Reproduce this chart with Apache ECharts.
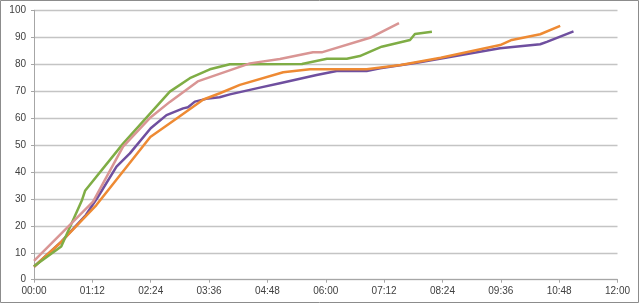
<!DOCTYPE html>
<html>
<head>
<meta charset="utf-8">
<script src="https://cdn.jsdelivr.net/npm/echarts@6/dist/echarts.min.js"></script>
<style>
html,body{margin:0;padding:0;background:#fff;}
#c{width:640px;height:304px;}
</style>
</head>
<body>
<div id="c"></div>
<script>
// time in minutes since 00:00, values in %
var purpleT = [0, 33.8, 64, 79, 101.8, 118.3, 144, 163.5, 184, 190, 198.5, 215, 229, 241.7, 278.7, 303.4, 348.8, 373.5, 410.5, 427, 472.3, 575, 624.6, 632.8, 665.7];
var purpleV = [4.8, 14.1, 24, 30.8, 42, 46.9, 56.2, 61.1, 63.6, 64, 66.1, 67.3, 67.7, 68.8, 71.3, 72.9, 76, 77.5, 77.5, 78.5, 80.5, 85.9, 87.4, 88.3, 92.2];

var orangeT = [0, 33.8, 77, 143.5, 176, 209, 229.3, 254, 307.5, 340.5, 410.5, 452.5, 501.9, 575.2, 589.6, 624.6, 649.3];
var orangeV = [4.8, 14.1, 27.7, 53, 59.8, 66.9, 69.2, 72.3, 77, 78.1, 78.1, 79.7, 82.4, 87.1, 89, 91.1, 94.2];

var greenT = [0, 33.6, 59.3, 63, 109.9, 167.6, 192.3, 217, 241.7, 330.6, 361.5, 386, 402, 429, 464, 470, 491];
var greenV = [5, 12.3, 29.6, 33, 50.5, 69.8, 74.8, 78.1, 80, 80.1, 82, 82, 83, 86.5, 89, 91.2, 92];

var pinkT = [0, 72.9, 109.9, 142.9, 167.6, 202, 266.4, 303.4, 344.2, 355, 414.6, 450.4];
var pinkV = [7, 29, 49.4, 60, 66, 73.6, 80.3, 81.9, 84.4, 84.4, 89.8, 95.2];

var xTickMinutes = [0, 72, 144, 216, 288, 360, 432, 504, 576, 648, 720];
var yTicks = [0, 10, 20, 30, 40, 50, 60, 70, 80, 90, 100];

function pairs(t, v) { return t.map(function (x, i) { return [x, v[i]]; }); }
function fmt(m) {
  var h = Math.floor(m / 60), mm = Math.round(m % 60);
  return (h < 10 ? '0' : '') + h + ':' + (mm < 10 ? '0' : '') + mm;
}

var font = "'Liberation Sans Narrow', 'Liberation Sans', sans-serif";
var chart = echarts.init(document.getElementById('c'), null, {renderer: 'canvas'});
function line(name, t, v, color) {
  return {
    name: name, type: 'line', data: pairs(t, v), showSymbol: false, symbol: 'none',
    lineStyle: {color: color, width: 2.5, join: 'round'}, itemStyle: {color: color},
    animation: false
  };
}
chart.setOption({
  animation: false,
  backgroundColor: '#fff',
  grid: {left: 34, right: 22.5, top: 10.3, bottom: 24.3, containLabel: false},
  xAxis: {
    type: 'value', min: 0, max: 720, interval: 72,
    axisLine: {show: true, lineStyle: {color: '#a6a6a6', width: 1}},
    axisTick: {show: true, length: 3, lineStyle: {color: '#a6a6a6'}},
    axisLabel: {color: '#404040', fontFamily: font, fontSize: 10, margin: 7, formatter: function (v) { return fmt(v); }},
    splitLine: {show: false}
  },
  yAxis: {
    type: 'value', min: 0, max: 100, interval: 10,
    axisLine: {show: true, lineStyle: {color: '#a6a6a6', width: 1}},
    axisTick: {show: true, length: 3, lineStyle: {color: '#a6a6a6'}},
    axisLabel: {color: '#404040', fontFamily: font, fontSize: 10, margin: 8},
    splitLine: {show: true, lineStyle: {color: '#c4c4c4', width: 1.4}}
  },
  graphic: [{
    type: 'rect', shape: {x: 0.5, y: 0.5, width: 638, height: 302},
    style: {fill: 'none', stroke: '#8c8c8c', lineWidth: 1}, silent: true
  }],
  series: [
    line('Purple', purpleT, purpleV, '#6f4f9f'),
    line('Orange', orangeT, orangeV, '#ee8a33'),
    line('Green', greenT, greenV, '#7fad45'),
    line('Pink', pinkT, pinkV, '#d99594')
  ]
});
</script>
</body>
</html>
